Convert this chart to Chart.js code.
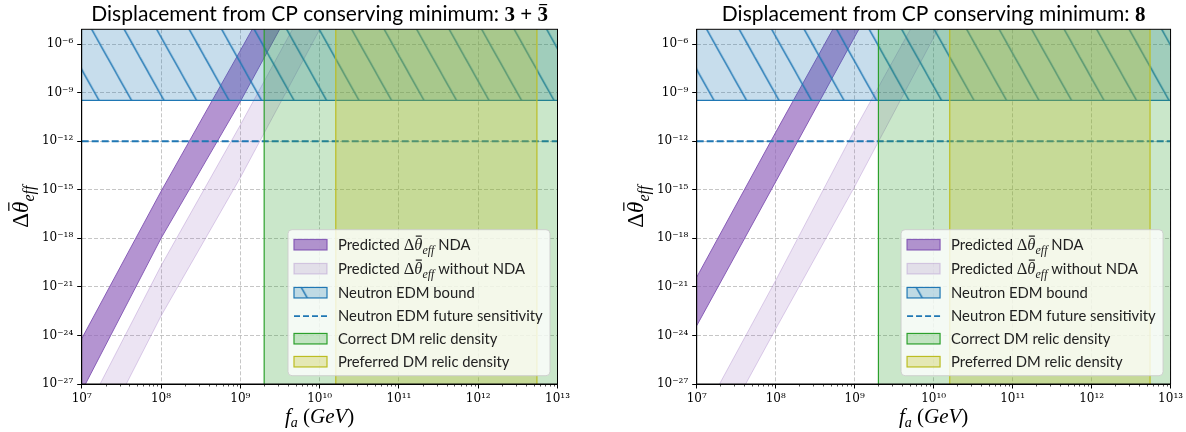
<!DOCTYPE html>
<html><head><meta charset="utf-8">
<script src="https://cdn.jsdelivr.net/npm/chart.js@4.4.1/dist/chart.umd.min.js"></script>
<style>
html,body{margin:0;padding:0;background:#fff;}
#wrap{position:relative;width:1186px;height:432px;overflow:hidden;}
canvas{position:absolute;top:0;}
#c1{left:0}
#c2{left:593px}
</style></head><body>
<div id="wrap"><canvas id="c1" width="593" height="432"></canvas><canvas id="c2" width="593" height="432"></canvas></div>
<script>
// ---------------- data ----------------
const xTicks = [1e7, 1e8, 1e9, 1e10, 1e11, 1e12, 1e13];
const yTicks = [1e-27, 1e-24, 1e-21, 1e-18, 1e-15, 1e-12, 1e-9, 1e-6];
const xMin = 1e7, xMax = 1e13, yMin = 1e-27, yMax = 8.3e-6;

// band edges: log10(Δθ) read at these f_a values
const bandX = [1e7, 1e8, 1e9, 1e10, 1e11];
const leftNdaHi  = [-24.2, -15.1, -6.4, 2.4, 11.2];
const leftNdaLo  = [-27.45, -18.0, -9.55, -0.55, 8.45];
const leftFreeHi = [-29.2, -19.7, -11.0, -2.0, 7.0];
const leftFreeLo = [-32.4, -22.8, -14.25, -5.1, 3.9];
const rightNdaHi  = [-20.4, -11.45, -2.65, 6.1, 15.0];
const rightNdaLo  = [-23.4, -14.5, -5.55, 3.2, 12.0];
const rightFreeHi = [-29.6, -20.6, -11.3, -2.5, 6.3];
const rightFreeLo = [-32.55, -23.6, -14.8, -5.6, 3.2];

const edmBound = 3.4e-10;          // neutron EDM bound (lower edge of hatched area)
const edmFuture = 1e-12;           // future sensitivity
const dmCorrect = [2e9, 1e14];     // correct DM relic density f_a range
const dmPreferred = [1.6e10, 5.5e12];
const spanLow = 1e-30, spanHigh = 1;
const edmSpan = [1e6, 1e14];

const titleText = 'Displacement from CP conserving minimum: ';
const titleMathLeft = ['3', ' + ', '3\u0304'];
const titleMathRight = ['8'];
const legendLabels = ['Predicted {M} NDA', 'Predicted {M} without NDA', 'Neutron EDM bound',
  'Neutron EDM future sensitivity', 'Correct DM relic density', 'Preferred DM relic density'];

// ---------------- styles ----------------
const C = {
  ndaFill:'rgba(148,103,189,0.7)', ndaEdge:'rgba(128,82,178,0.9)',
  freeFill:'rgba(148,103,189,0.18)', freeEdge:'rgba(148,103,189,0.3)',
  blue:'rgb(31,119,180)', blueFill:'rgba(31,119,180,0.25)',
  green:'rgb(44,160,44)', greenFill:'rgba(44,160,44,0.25)',
  olive:'rgb(188,189,34)', oliveFill:'rgba(188,189,34,0.3)'
};
const SANS = 'Lato', SERIF = '"Liberation Serif"';
const SUP = {'-':'\u207B','0':'\u2070','1':'\u00B9','2':'\u00B2','3':'\u00B3','4':'\u2074','5':'\u2075','6':'\u2076','7':'\u2077','8':'\u2078','9':'\u2079'};
function powLabel(v){ const e = Math.round(Math.log10(v)); return '10' + String(e).split('').map(c => SUP[c]).join(''); }

function makeHatch(tx){
  const W = 65, H = 116, c = document.createElement('canvas');
  c.width = W; c.height = H;
  const g = c.getContext('2d');
  g.fillStyle = C.blueFill; g.fillRect(0, 0, W, H);
  g.strokeStyle = C.blue; g.lineWidth = 1.35;
  for (let k = -3; k <= 3; k++) { g.beginPath(); g.moveTo(k*32.5, 0); g.lineTo(k*32.5 + W, H); g.stroke(); }
  const pat = g.createPattern(c, 'repeat');
  pat.setTransform(new DOMMatrix([1,0,0,1,tx,0]));
  return pat;
}

function mathRuns(s){
  return [
    {t:'\u0394', f:`${s}px ${SERIF}`},
    {t:'\u03B8', f:`italic ${s}px ${SERIF}`, over:true, overH:s*0.86},
    {t:'eff', f:`italic ${Math.round(s*0.7)}px ${SERIF}`, dy:s*0.25}
  ];
}
function drawRuns(ctx, runs, x, y, align){
  let w = 0;
  runs.forEach(r => { ctx.font = r.f; r.w = ctx.measureText(r.t).width; w += r.w; });
  let cx = align === 'center' ? x - w/2 : (align === 'right' ? x - w : x);
  ctx.textAlign = 'left'; ctx.textBaseline = 'alphabetic';
  runs.forEach(r => {
    ctx.font = r.f; ctx.fillText(r.t, cx, y + (r.dy || 0));
    if (r.over) ctx.fillRect(cx + r.w*0.18, y - r.overH, r.w*0.75, 1.2);
    cx += r.w;
  });
  return w;
}

function buildDatasets(p, hatch){
  const pts = (xs, es) => xs.map((x, i) => ({x, y: Math.pow(10, es[i])}));
  const b = {pointRadius:0, pointHoverRadius:0, showLine:true, tension:0};
  return [
    {...b, label:'nda-hi', data:pts(bandX, p.ndaHi), borderColor:C.ndaEdge, borderWidth:1, backgroundColor:C.ndaFill, fill:'+1', order:100},
    {...b, label:'nda-lo', data:pts(bandX, p.ndaLo), borderColor:C.ndaEdge, borderWidth:1, fill:false, order:99},
    {...b, label:'free-hi', data:pts(bandX, p.freeHi), borderColor:C.freeEdge, borderWidth:1, backgroundColor:C.freeFill, fill:'+1', order:98},
    {...b, label:'free-lo', data:pts(bandX, p.freeLo), borderColor:C.freeEdge, borderWidth:1, fill:false, order:97},
    {...b, label:'edm', data:[{x:edmSpan[0], y:edmBound}, {x:edmSpan[1], y:edmBound}], borderColor:C.blue, borderWidth:1.3, backgroundColor:hatch, fill:'end', order:96},
    {...b, label:'edm-future', data:[{x:xMin, y:edmFuture}, {x:xMax, y:edmFuture}], borderColor:C.blue, borderWidth:1.8, borderDash:[7,3], fill:false, order:95},
    {...b, label:'dm-correct', data:[{x:dmCorrect[0], y:spanHigh}, {x:dmCorrect[1], y:spanHigh}], borderWidth:0, borderColor:'rgba(0,0,0,0)', backgroundColor:C.greenFill, fill:'start', order:94},
    {...b, label:'dm-correct-edge', data:[{x:dmCorrect[0], y:spanLow}, {x:dmCorrect[0], y:spanHigh}], borderColor:C.green, borderWidth:1.2, fill:false, order:93},
    {...b, label:'dm-pref', data:[{x:dmPreferred[0], y:spanHigh}, {x:dmPreferred[1], y:spanHigh}], borderWidth:0, borderColor:'rgba(0,0,0,0)', backgroundColor:C.oliveFill, fill:'start', order:92},
    {...b, label:'dm-pref-l', data:[{x:dmPreferred[0], y:spanLow}, {x:dmPreferred[0], y:spanHigh}], borderColor:C.olive, borderWidth:1.2, fill:false, order:91},
    {...b, label:'dm-pref-r', data:[{x:dmPreferred[1], y:spanLow}, {x:dmPreferred[1], y:spanHigh}], borderColor:C.olive, borderWidth:1.2, fill:false, order:90}
  ];
}

function decorPlugin(p, hatch){
  return {
    id:'decor',
    afterDatasetsDraw(chart){
      const {ctx, chartArea:a} = chart;
      ctx.save(); ctx.strokeStyle = '#000'; ctx.lineWidth = 1;
      ctx.strokeRect(a.left, a.top, a.right - a.left, a.bottom - a.top);
      ctx.restore();
    },
    afterDraw(chart){
      const {ctx, chartArea:a} = chart;
      const xs = chart.scales.x;
      ctx.save();
      // minor x ticks
      ctx.strokeStyle = '#000'; ctx.lineWidth = 0.7;
      for (let i = 0; i < xTicks.length - 1; i++) for (let k = 2; k < 10; k++) {
        const px = Math.round(xs.getPixelForValue(k * xTicks[i])) + 0.5;
        ctx.beginPath(); ctx.moveTo(px, a.bottom); ctx.lineTo(px, a.bottom + 2.5); ctx.stroke();
      }
      ctx.fillStyle = '#000';
      const cx = (a.left + a.right) / 2, cy = (a.top + a.bottom) / 2;
      // title
      const tRuns = [{t:titleText, f:`21px ${SANS}`}].concat(p.titleMath.map(s => {
        if (s.indexOf('\u0304') >= 0) return {t:s.replace('\u0304',''), f:`bold 21px ${SERIF}`, over:true, overH:17};
        return {t:s, f:`bold 21px ${SERIF}`};
      }));
      drawRuns(ctx, tRuns, cx, 21, 'center');
      // x title
      drawRuns(ctx, [
        {t:'f', f:`italic 21px ${SERIF}`}, {t:'a', f:`italic 14px ${SERIF}`, dy:4},
        {t:' (', f:`21px ${SERIF}`}, {t:'GeV', f:`italic 21px ${SERIF}`}, {t:')', f:`21px ${SERIF}`}
      ], cx, 423, 'center');
      // y title
      ctx.save(); ctx.translate(p.yTitleX, cy); ctx.rotate(-Math.PI/2);
      drawRuns(ctx, mathRuns(23), 0, 0, 'center');
      ctx.restore();
      // legend
      const bw = 262, bh = 146, bx = a.right - 7.5 - bw, by = a.bottom - 8.3 - bh;
      ctx.beginPath(); ctx.roundRect(bx, by, bw, bh, 4);
      ctx.fillStyle = 'rgba(255,255,255,0.8)'; ctx.fill();
      ctx.strokeStyle = 'rgba(204,204,204,0.9)'; ctx.lineWidth = 1; ctx.stroke();
      const rows = [15, 39, 63, 86.5, 109, 132];
      const hx = bx + 6, hw = 33, hh = 10.5, tx = bx + 50;
      rows.forEach((ry, i) => {
        const yc = by + ry;
        ctx.save();
        if (i === 3) {
          ctx.strokeStyle = C.blue; ctx.lineWidth = 1.8; ctx.setLineDash([6,3]);
          ctx.beginPath(); ctx.moveTo(hx, yc); ctx.lineTo(hx + hw, yc); ctx.stroke();
        } else {
          const fills = [C.ndaFill, C.freeFill, hatch, null, C.greenFill, C.oliveFill];
          const edges = [C.ndaEdge, C.freeEdge, C.blue, null, C.green, C.olive];
          ctx.fillStyle = fills[i]; ctx.fillRect(hx, yc - hh/2, hw, hh);
          ctx.strokeStyle = edges[i]; ctx.lineWidth = 1.2; ctx.strokeRect(hx, yc - hh/2, hw, hh);
        }
        ctx.restore();
        ctx.fillStyle = '#222';
        const parts = legendLabels[i].split('{M}');
        let runs = [{t:parts[0], f:`14.8px ${SANS}`}];
        if (parts.length > 1) runs = runs.concat(mathRuns(16.5), [{t:parts[1], f:`14.8px ${SANS}`}]);
        drawRuns(ctx, runs, tx, yc + 5, 'left');
      });
      ctx.restore();
    }
  };
}

function makeChart(id, p){
  const hatch = makeHatch(p.hatchTx);
  const tickFont = {family:'DejaVu Serif', size:12};
  return new Chart(document.getElementById(id), {
    type:'scatter',
    data:{datasets: buildDatasets(p, hatch)},
    options:{
      responsive:false, animation:false, devicePixelRatio:1,
      layout:{padding:{top:29.3, right:p.padRight, left:0, bottom:0}},
      plugins:{legend:{display:false}, tooltip:{enabled:false}, title:{display:false}},
      scales:{
        x:{type:'logarithmic', min:xMin, max:xMax,
           afterBuildTicks: ax => { ax.ticks = xTicks.map(v => ({value:v})); },
           afterFit: ax => { ax.height = 48; },
           ticks:{callback: v => powLabel(v), font:tickFont, color:'#000', maxRotation:0, autoSkip:false, padding:3},
           grid:{color:'#b8b8b8', lineWidth:0.8, tickColor:'#000', tickLength:4.5, tickWidth:1},
           border:{display:true, color:'#000', width:1, dash:[4,2]}},
        y:{type:'logarithmic', min:yMin, max:yMax,
           afterBuildTicks: ax => { ax.ticks = yTicks.map(v => ({value:v})); },
           afterFit: ax => { ax.width = p.leftW; },
           ticks:{callback: v => powLabel(v), font:tickFont, color:'#000', autoSkip:false, padding:4},
           grid:{color:'#b8b8b8', lineWidth:0.8, tickColor:'#000', tickLength:4.5, tickWidth:1},
           border:{display:true, color:'#000', width:1, dash:[4,2]}}
      }
    },
    plugins:[decorPlugin(p, hatch)]
  });
}

makeChart('c1', {ndaHi:leftNdaHi, ndaLo:leftNdaLo, freeHi:leftFreeHi, freeLo:leftFreeLo,
  titleMath:titleMathLeft, leftW:81.7, padRight:35.5, yTitleX:28, hatchTx:75.3});
makeChart('c2', {ndaHi:rightNdaHi, ndaLo:rightNdaLo, freeHi:rightFreeHi, freeLo:rightFreeLo,
  titleMath:titleMathRight, leftW:103.7, padRight:13.5, yTitleX:50, hatchTx:97.3});
</script>
</body></html>
